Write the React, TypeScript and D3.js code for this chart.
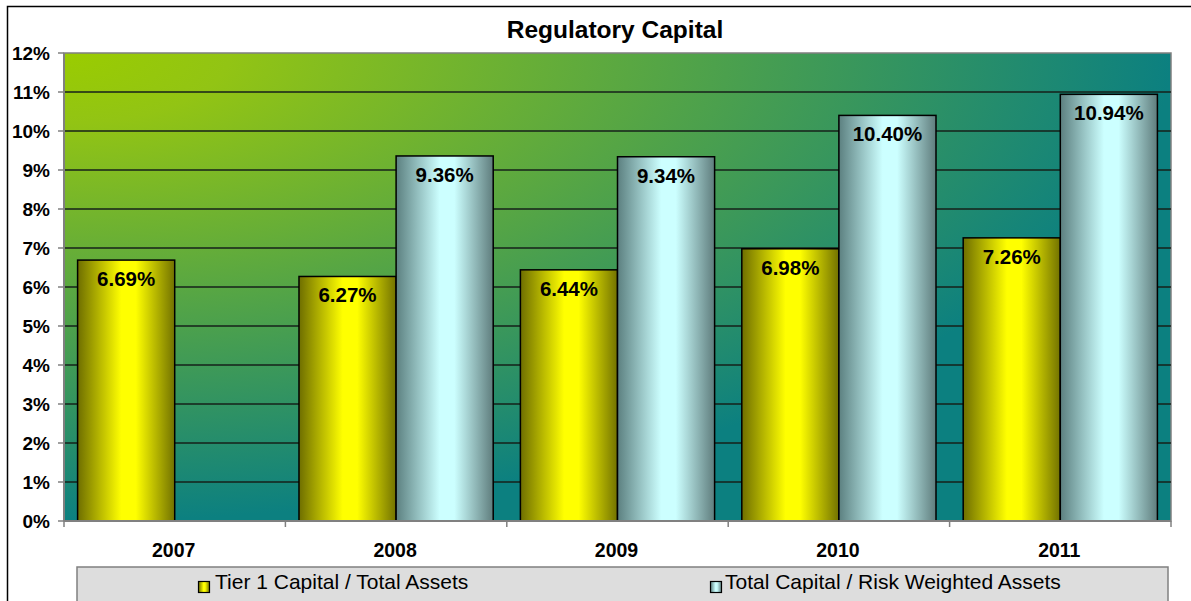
import React from "react";
import * as d3 from "d3";

// data
const years = ["2007", "2008", "2009", "2010", "2011"];
const tier1 = [6.69, 6.27, 6.44, 6.98, 7.26];
const totalCap: (number | null)[] = [null, 9.36, 9.34, 10.4, 10.94];
const seriesNames = ["Tier 1 Capital / Total Assets", "Total Capital / Risk Weighted Assets"];
const yTicks = [0, 1, 2, 3, 4, 5, 6, 7, 8, 9, 10, 11, 12];

const W = 1191;
const H = 601;
const FONT = "Arial, 'Liberation Sans', Helvetica, sans-serif";

export default function App() {
  const plot = { left: 64, right: 1171, top: 53, bottom: 521 };

  const x = d3.scaleBand<string>().domain(years).range([plot.left, plot.right]).padding(0);
  const inner = d3
    .scaleBand<string>()
    .domain(["tier1", "total"])
    .range([0, x.bandwidth()])
    .paddingInner(0)
    .paddingOuter(0.14);
  const y = d3.scaleLinear().domain([0, 12]).range([plot.bottom, plot.top]);

  const bars: { key: string; year: string; v: number }[] = [];
  years.forEach((yr, i) => {
    bars.push({ key: "tier1", year: yr, v: tier1[i] });
    if (totalCap[i] != null) bars.push({ key: "total", year: yr, v: totalCap[i] as number });
  });

  const fmt = (v: number) => v.toFixed(2) + "%";
  const edges = years.map((yr) => x(yr) as number).concat([plot.right]);

  return (
    <div style={{ position: "absolute", left: 0, top: 0 }}>
      <svg width={W} height={H} style={{ display: "block", fontFamily: FONT }}>
        <defs>
          <radialGradient id="bg" cx="0" cy="0" r="1" fx="0" fy="0">
            <stop offset="0" stopColor="#9acc00" />
            <stop offset="0.15" stopColor="#92c414" />
            <stop offset="1" stopColor="#0c8080" />
          </radialGradient>
          <linearGradient id="gYellow" x1="0" y1="0" x2="1" y2="0">
            <stop offset="0" stopColor="#6e6e00" />
            <stop offset="0.45" stopColor="#ffff00" />
            <stop offset="0.6" stopColor="#ffff00" />
            <stop offset="1" stopColor="#727200" />
          </linearGradient>
          <linearGradient id="gCyan" x1="0" y1="0" x2="1" y2="0">
            <stop offset="0" stopColor="#5c8080" />
            <stop offset="0.45" stopColor="#ccffff" />
            <stop offset="0.6" stopColor="#ccffff" />
            <stop offset="1" stopColor="#5f7d7d" />
          </linearGradient>
        </defs>

        <rect x={0} y={0} width={W} height={H} fill="#ffffff" />
        {/* outer chart frame */}
        <rect x={7.5} y={6.5} width={1300} height={700} fill="none" stroke="#000" strokeWidth={1.5} />

        <text x={615} y={38} textAnchor="middle" fontSize={24.5} fontWeight="bold" fill="#000">
          Regulatory Capital
        </text>

        {/* plot area */}
        <rect
          x={plot.left}
          y={plot.top}
          width={plot.right - plot.left}
          height={plot.bottom - plot.top}
          fill="url(#bg)"
          stroke="#808080"
          strokeWidth={1.5}
        />

        {yTicks
          .filter((t) => t > 0 && t < 12)
          .map((t) => (
            <line key={t} x1={plot.left} x2={plot.right} y1={y(t)} y2={y(t)} stroke="#16201a" strokeWidth={1.6} />
          ))}

        {bars.map((b) => {
          const bx = (x(b.year) as number) + (inner(b.key) as number);
          const bw = inner.bandwidth();
          return (
            <g key={b.year + b.key}>
              <rect
                x={bx}
                y={y(b.v)}
                width={bw}
                height={plot.bottom - y(b.v)}
                fill={b.key === "tier1" ? "url(#gYellow)" : "url(#gCyan)"}
                stroke="#000"
                strokeWidth={1.5}
              />
              <text x={bx + bw / 2} y={y(b.v) + 26} textAnchor="middle" fontSize={20.5} fontWeight="bold" fill="#000">
                {fmt(b.v)}
              </text>
            </g>
          );
        })}

        {/* axes */}
        <line x1={plot.left} x2={plot.left} y1={plot.top} y2={plot.bottom} stroke="#808080" strokeWidth={2} />
        <line x1={plot.left} x2={plot.right} y1={plot.bottom} y2={plot.bottom} stroke="#808080" strokeWidth={2} />
        {yTicks.map((t) => (
          <g key={t}>
            <line x1={plot.left - 6} x2={plot.left} y1={y(t)} y2={y(t)} stroke="#808080" strokeWidth={1.5} />
            <text x={50} y={y(t) + 7} textAnchor="end" fontSize={19} fontWeight="bold" fill="#000">
              {t + "%"}
            </text>
          </g>
        ))}
        {edges.map((e, i) => (
          <line key={i} x1={e} x2={e} y1={plot.bottom} y2={plot.bottom + 6} stroke="#808080" strokeWidth={1.5} />
        ))}
        {years.map((yr) => (
          <text
            key={yr}
            x={(x(yr) as number) + x.bandwidth() / 2 - 1}
            y={557}
            textAnchor="middle"
            fontSize={19.5}
            fontWeight="bold"
            fill="#000"
          >
            {yr}
          </text>
        ))}

        {/* legend */}
        <rect x={77} y={567} width={1091} height={60} fill="#dddddd" stroke="#808080" strokeWidth={1.5} />
        <rect x={198.5} y={581.5} width={11} height={11} fill="url(#gYellow)" stroke="#000" strokeWidth={1.2} />
        <text x={215} y={589} fontSize={21} fill="#000">
          {seriesNames[0]}
        </text>
        <rect x={710.5} y={581.5} width={11} height={11} fill="url(#gCyan)" stroke="#000" strokeWidth={1.2} />
        <text x={725} y={589} fontSize={21} fill="#000">
          {seriesNames[1]}
        </text>
      </svg>
    </div>
  );
}
